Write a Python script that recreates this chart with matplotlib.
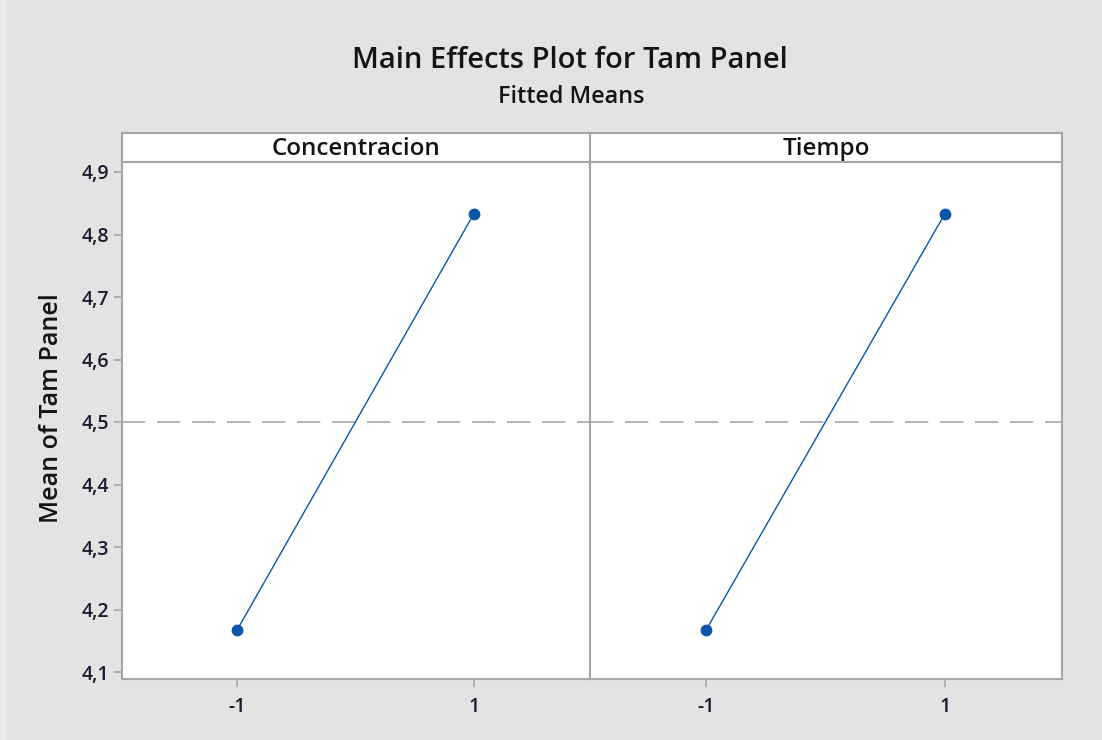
import matplotlib
matplotlib.use("Agg")
import matplotlib.pyplot as plt
from matplotlib.patches import Rectangle

# Fitted means for each factor level
factors = ["Concentracion", "Tiempo"]
levels = [-1, 1]
fitted_means = {
    "Concentracion": [4.1667, 4.8333],
    "Tiempo": [4.1667, 4.8333],
}
overall_mean = 4.5
y_ticks = [4.1, 4.2, 4.3, 4.4, 4.5, 4.6, 4.7, 4.8, 4.9]
y_tick_labels = ["4,1", "4,2", "4,3", "4,4", "4,5", "4,6", "4,7", "4,8", "4,9"]
x_tick_labels = ["-1", "1"]

title = "Main Effects Plot for Tam Panel"
subtitle = "Fitted Means"
y_label = "Mean of Tam Panel"

W, H = 1102, 740
bg = "#e3e3e3"
frame = "#a6a6a6"
line_col = "#0a56a8"
text_col = "#141414"
tick_text = "#1a1a30"

plt.rcParams["font.family"] = ["Open Sans", "DejaVu Sans"]

fig = plt.figure(figsize=(W / 100, H / 100), dpi=100)
fig.patch.set_facecolor(bg)
fig.patches.append(Rectangle((0, 0), 7 / W, 1, transform=fig.transFigure,
                             facecolor="#ebebeb", edgecolor="none", zorder=0))


def fx(px):
    return px / W


def fy(py):
    return 1 - py / H


panel_x = [(122, 590), (590, 1062)]
plot_top, plot_bot, strip_top = 162, 679, 133

fig.text(fx(570), fy(60), title, ha="center", va="center",
         fontsize=21, fontweight="semibold", color=text_col)
fig.text(fx(571), fy(97), subtitle, ha="center", va="center",
         fontsize=16.8, fontweight="semibold", color=text_col)
fig.text(fx(52), fy(408), y_label, rotation=90,
         ha="center", va="center", fontsize=18, fontweight="semibold",
         color=text_col)

for i, (name, (x0, x1)) in enumerate(zip(factors, panel_x)):
    ax = fig.add_axes([fx(x0), fy(plot_bot), fx(x1 - x0), (plot_bot - plot_top) / H])
    ax.set_facecolor("white")
    ax.plot(levels, fitted_means[name], color=line_col, lw=1.0,
            marker="o", ms=7.5, mfc=line_col, mec=line_col, zorder=3)
    ax.axhline(overall_mean, color="#a8a8a8", lw=1.2, dashes=(14, 7), zorder=2)
    ax.set_xlim(-1.97, 1.98)
    ax.set_ylim(4.0888, 4.916)
    ax.set_xticks(levels)
    ax.set_xticklabels(x_tick_labels, fontsize=14, fontweight="semibold",
                       color=tick_text)
    ax.tick_params(axis="x", length=6, width=1.2, color=frame, pad=7)
    if i == 0:
        ax.set_yticks(y_ticks)
        ax.set_yticklabels(y_tick_labels, fontsize=14, fontweight="semibold",
                           color=tick_text)
        ax.tick_params(axis="y", length=6, width=1.2, color=frame, pad=3)
    else:
        ax.set_yticks([])
    for s in ax.spines.values():
        s.set_color(frame)
        s.set_linewidth(1.5)

    sax = fig.add_axes([fx(x0), fy(plot_top), fx(x1 - x0), (plot_top - strip_top) / H])
    sax.set_facecolor("white")
    sax.set_xticks([])
    sax.set_yticks([])
    for s in sax.spines.values():
        s.set_color(frame)
        s.set_linewidth(1.5)
    sax.text(0.5, 0.45, name, transform=sax.transAxes, ha="center", va="center",
             fontsize=17.4, fontweight="semibold", color=text_col)

fig.savefig("out.png", dpi=100, facecolor=bg)
